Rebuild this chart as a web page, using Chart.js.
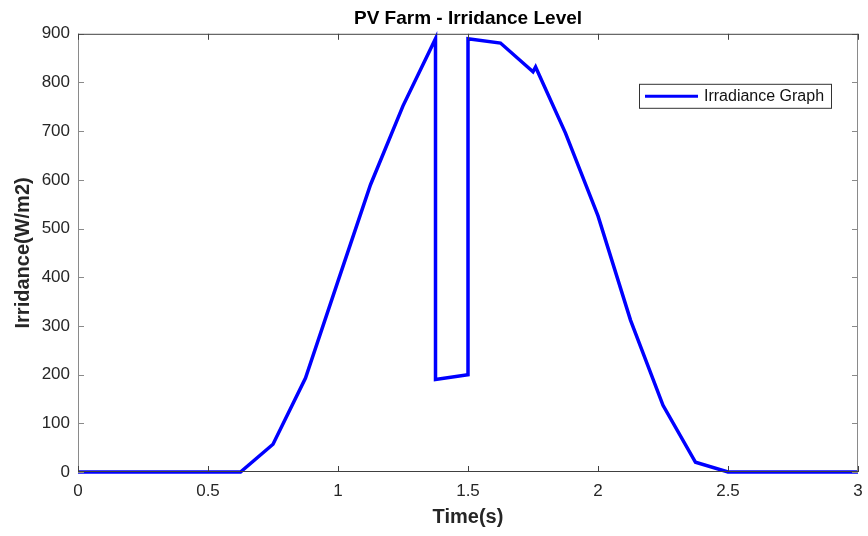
<!DOCTYPE html>
<html>
<head>
<meta charset="utf-8">
<script src="https://cdn.jsdelivr.net/npm/chart.js@4"></script>
<style>
  html, body { margin: 0; padding: 0; background: #fff; }
  #wrap { width: 868px; height: 536px; }
</style>
</head>
<body>
<div id="wrap"><canvas id="myChart" width="868" height="536"></canvas></div>
<script>
const timeValues = [0, 0.125, 0.25, 0.375, 0.5, 0.625, 0.75, 0.875, 1.0, 1.125, 1.25, 1.375, 1.375, 1.5, 1.5, 1.625, 1.75, 1.76, 1.875, 2.0, 2.125, 2.25, 2.375, 2.5, 2.625, 2.75, 2.875, 3.0];
const irradianceValues = [0, 0, 0, 0, 0, 0, 57, 193, 392, 590, 752, 890, 190, 200, 890, 881, 822, 832, 696, 526, 312, 137, 20, 0, 0, 0, 0, 0];
const xTickValues = [0, 0.5, 1, 1.5, 2, 2.5, 3];
const yTickValues = [0, 100, 200, 300, 400, 500, 600, 700, 800, 900];

const fontFamily = "'Liberation Sans', Arial, Helvetica, sans-serif";

// box around the axes plus inward ticks on all four sides, like matlab
const boxPlugin = {
    id: 'matlabBox',
    afterDatasetsDraw(chart) {
        const ctx = chart.ctx;
        const a = chart.chartArea;
        const xs = chart.scales.x;
        const ys = chart.scales.y;
        const tl = 6;
        ctx.save();
        ctx.lineWidth = 1;
        ctx.strokeStyle = '#8a8a8a';
        ctx.beginPath();
        ctx.moveTo(a.left + 0.5, a.top); ctx.lineTo(a.left + 0.5, a.bottom);
        ctx.moveTo(a.right - 0.5, a.top); ctx.lineTo(a.right - 0.5, a.bottom);
        yTickValues.forEach(v => {
            const py = Math.round(ys.getPixelForValue(v)) + 0.5;
            ctx.moveTo(a.left, py); ctx.lineTo(a.left + tl, py);
            ctx.moveTo(a.right, py); ctx.lineTo(a.right - tl, py);
        });
        ctx.stroke();
        ctx.strokeStyle = '#404040';
        ctx.beginPath();
        ctx.moveTo(a.left, a.top + 0.5); ctx.lineTo(a.right, a.top + 0.5);
        ctx.moveTo(a.left, a.bottom - 0.5); ctx.lineTo(a.right, a.bottom - 0.5);
        xTickValues.forEach(v => {
            const px = Math.round(xs.getPixelForValue(v)) + 0.5;
            ctx.moveTo(px, a.bottom); ctx.lineTo(px, a.bottom - tl);
            ctx.moveTo(px, a.top); ctx.lineTo(px, a.top + tl);
        });
        ctx.stroke();
        ctx.restore();
    }
};

// boxed legend in the upper right of the plot
const legendPlugin = {
    id: 'boxLegend',
    afterDraw(chart) {
        const ctx = chart.ctx;
        const a = chart.chartArea;
        const ds = chart.data.datasets[0];
        const w = 192, h = 24;
        const x0 = a.right - 27 - w, y0 = a.top + 50;
        ctx.save();
        ctx.fillStyle = '#fff';
        ctx.fillRect(x0, y0, w, h);
        ctx.strokeStyle = '#333';
        ctx.lineWidth = 1;
        ctx.strokeRect(x0 + 0.5, y0 + 0.5, w, h);
        ctx.strokeStyle = ds.borderColor;
        ctx.lineWidth = 3;
        ctx.beginPath();
        ctx.moveTo(x0 + 6, y0 + h / 2 + 0.5);
        ctx.lineTo(x0 + 59, y0 + h / 2 + 0.5);
        ctx.stroke();
        ctx.fillStyle = '#111';
        ctx.font = '16px ' + fontFamily;
        ctx.textBaseline = 'middle';
        ctx.fillText(ds.label, x0 + 65, y0 + h / 2 + 1);
        ctx.restore();
    }
};

function makeGraphic() {
    const canvasContext = document.getElementById('myChart').getContext('2d');
    const points = timeValues.map((t, i) => ({ x: t, y: irradianceValues[i] }));
    const data = {
        datasets: [{
            label: 'Irradiance Graph',
            data: points,
            borderColor: 'rgb(0, 0, 255)',
            backgroundColor: 'rgb(0, 0, 255)',
            borderWidth: 3.5,
            pointRadius: 0,
            showLine: true,
            tension: 0,
            clip: false,
            borderJoinStyle: 'miter'
        }]
    };
    const config = {
        type: 'scatter',
        data: data,
        options: {
            responsive: false,
            animation: false,
            layout: { padding: { left: 0, right: 10, top: 0, bottom: 0 } },
            plugins: {
                legend: { display: false },
                tooltip: { enabled: false },
                title: {
                    display: true,
                    fullSize: false,
                    text: 'PV Farm - Irridance Level',
                    color: '#000',
                    font: { family: fontFamily, size: 19, weight: 'bold', lineHeight: 1.2 },
                    padding: { top: 7, bottom: 4 }
                }
            },
            scales: {
                x: {
                    type: 'linear',
                    min: 0,
                    max: 3,
                    afterBuildTicks: (scale) => { scale.ticks = xTickValues.map(v => ({ value: v })); },
                    afterFit: (scale) => {
                        scale.height = 64;
                        scale.paddingLeft = 0;
                        scale.paddingRight = 0;
                    },
                    grid: { display: false, drawTicks: false },
                    border: { display: false },
                    ticks: {
                        color: '#262626',
                        padding: 9,
                        maxRotation: 0,
                        callback: (v) => String(v),
                        font: { family: fontFamily, size: 17 }
                    },
                    title: {
                        display: true,
                        text: 'Time(s)',
                        color: '#262626',
                        font: { family: fontFamily, size: 20, weight: 'bold', lineHeight: 1.2 },
                        padding: { top: 0, bottom: 7 }
                    }
                },
                y: {
                    type: 'linear',
                    min: 0,
                    max: 900,
                    afterBuildTicks: (scale) => { scale.ticks = yTickValues.map(v => ({ value: v })); },
                    afterFit: (scale) => { scale.width = 78; },
                    grid: { display: false, drawTicks: false },
                    border: { display: false },
                    ticks: {
                        color: '#262626',
                        padding: 8,
                        font: { family: fontFamily, size: 17 }
                    },
                    title: {
                        display: true,
                        text: 'Irridance(W/m2)',
                        color: '#262626',
                        font: { family: fontFamily, size: 20, weight: 'bold', lineHeight: 1.2 },
                        padding: { top: 11, bottom: 0 }
                    }
                }
            }
        },
        plugins: [boxPlugin, legendPlugin]
    };
    new Chart(canvasContext, config);
}
makeGraphic();
</script>
</body>
</html>
